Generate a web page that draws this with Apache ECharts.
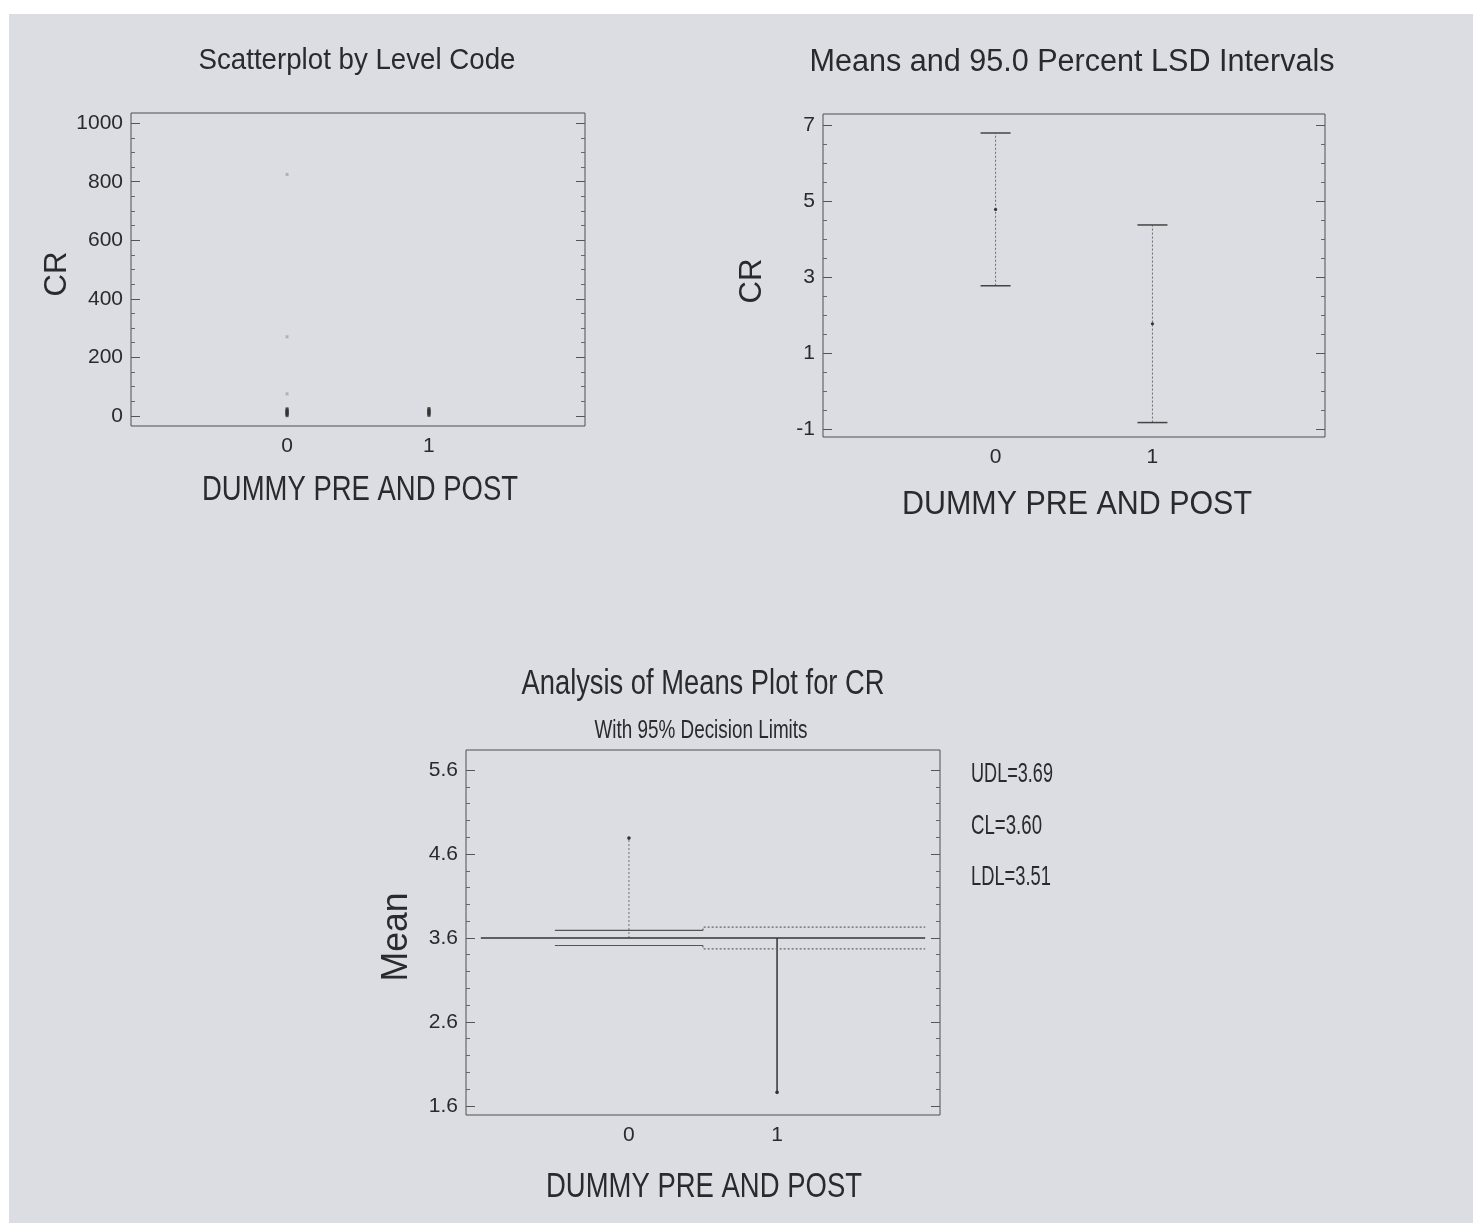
<!DOCTYPE html>
<html><head><meta charset="utf-8">
<script src="https://cdn.jsdelivr.net/npm/echarts@6/dist/echarts.min.js"></script>
<style>
html,body{margin:0;padding:0;background:#ffffff;}
#bg{position:absolute;left:9px;top:14px;width:1464px;height:1209px;background:#dcdde2;}
#c{position:absolute;left:0;top:0;width:1473px;height:1223px;}
</style>
</head><body><div id="bg"></div><div id="c"></div>
<script>
// ---------- data ----------
const levelCodes = [0, 1];
const xTickLabels = [0, 1];
const xAxisName = 'DUMMY PRE AND POST';

// Scatterplot by Level Code (CR values per level)
const scatterLevel0Dense = [2, 6, 10, 14, 18, 22];
const scatterLevel0Sparse = [75, 270, 825];
const scatterLevel1Dense = [3, 7, 11, 15, 19, 23];
const scatterTicks = [0, 200, 400, 600, 800, 1000];

// Means and 95.0 Percent LSD Intervals
const lsdMeans = [4.78, 1.77];
const lsdLower = [2.77, -0.83];
const lsdUpper = [6.79, 4.37];
const lsdTicks = [-1, 1, 3, 5, 7];

// Analysis of Means
const anomMeans = [4.79, 1.76];
const anomCL = 3.60;
const anomUDL = [3.69, 3.73];
const anomLDL = [3.51, 3.47];
const anomTicks = [1.6, 2.6, 3.6, 4.6, 5.6];
const anomLabels = ['UDL=3.69', 'CL=3.60', 'LDL=3.51'];

// ---------- helpers ----------
const FONT = "'Liberation Sans', Arial, sans-serif";
const TXT = '#2a2a2e';
function minors(majors, step) {
  const out = [];
  for (let i = 0; i < majors.length - 1; i++) {
    for (let v = majors[i] + step; v < majors[i + 1] - step / 2; v += step) out.push(Math.round(v * 1000) / 1000);
  }
  return out;
}
const grids = [
  {left: 131, top: 113, width: 454, height: 313},
  {left: 823, top: 114, width: 502, height: 323},
  {left: 466, top: 750, width: 474, height: 365}
];
const yRanges = [[-35, 1035], [-1.21, 7.29], [1.49, 5.84]];
const yMajors = [scatterTicks, lsdTicks, anomTicks];
const yMinors = [minors(scatterTicks, 50), minors(lsdTicks, 0.5), minors(anomTicks, 0.2)];
const labelSize = 21;

const xAxes = [], yAxes = [];
for (let g = 0; g < 3; g++) {
  xAxes.push({
    type: 'value', gridIndex: g, min: -1.1, max: 2.1,
    axisLine: {show: false, onZero: false}, axisTick: {show: false}, splitLine: {show: false},
    axisLabel: {customValues: xTickLabels, color: TXT, fontSize: labelSize, fontFamily: FONT, margin: 10}
  });
  const base = {type: 'value', gridIndex: g, min: yRanges[g][0], max: yRanges[g][1],
    axisLine: {show: false, onZero: false}, splitLine: {show: false}};
  yAxes.push(Object.assign({}, base, {
    position: 'left',
    axisTick: {inside: true, length: 9, customValues: yMajors[g], lineStyle: {color: '#555'}},
    axisLabel: {customValues: yMajors[g], color: TXT, fontSize: labelSize, fontFamily: FONT, margin: 8,
      formatter: v => String(v)}
  }));
  yAxes.push(Object.assign({}, base, {
    position: 'left',
    axisTick: {inside: true, length: 4, customValues: yMinors[g], lineStyle: {color: '#666'}},
    axisLabel: {show: false}
  }));
  yAxes.push(Object.assign({}, base, {
    position: 'right',
    axisTick: {inside: true, length: 9, customValues: yMajors[g], lineStyle: {color: '#555'}},
    axisLabel: {show: false}
  }));
  yAxes.push(Object.assign({}, base, {
    position: 'right',
    axisTick: {inside: true, length: 4, customValues: yMinors[g], lineStyle: {color: '#666'}},
    axisLabel: {show: false}
  }));
}

// series data
const sDense = [];
scatterLevel0Dense.forEach(v => sDense.push([levelCodes[0], v]));
scatterLevel1Dense.forEach(v => sDense.push([levelCodes[1], v]));
const sSparse = scatterLevel0Sparse.map(v => [levelCodes[0], v]);
const lsdData = levelCodes.map((c, i) => [c, lsdLower[i], lsdUpper[i], lsdMeans[i]]);
const anomMeanData = levelCodes.map((c, i) => [c, anomCL, anomMeans[i], i]);

const series = [
  {type: 'scatter', xAxisIndex: 0, yAxisIndex: 0, data: sDense, symbol: 'rect', symbolSize: [3, 4],
    itemStyle: {color: '#333'}, silent: true},
  {type: 'scatter', xAxisIndex: 0, yAxisIndex: 0, data: sSparse, symbol: 'rect', symbolSize: [3, 3],
    itemStyle: {color: '#a5a6aa'}, silent: true},
  {type: 'custom', xAxisIndex: 1, yAxisIndex: 4, data: lsdData, silent: true,
    renderItem: function (params, api) {
      const x = api.value(0);
      const lo = api.coord([x, api.value(1)]);
      const hi = api.coord([x, api.value(2)]);
      const m = api.coord([x, api.value(3)]);
      const hw = 15;
      return {type: 'group', children: [
        {type: 'line', shape: {x1: lo[0], y1: lo[1], x2: hi[0], y2: hi[1]},
          style: {stroke: '#6a6a6e', lineWidth: 1, lineDash: [2, 2]}},
        {type: 'line', shape: {x1: hi[0] - hw, y1: hi[1], x2: hi[0] + hw, y2: hi[1]},
          style: {stroke: '#444', lineWidth: 1.5}},
        {type: 'line', shape: {x1: lo[0] - hw, y1: lo[1], x2: lo[0] + hw, y2: lo[1]},
          style: {stroke: '#444', lineWidth: 1.5}},
        {type: 'circle', shape: {cx: m[0], cy: m[1], r: 1.6}, style: {fill: '#333'}}
      ]};
    }},
  {type: 'line', xAxisIndex: 2, yAxisIndex: 8, data: [[-1, anomCL], [2, anomCL]], symbol: 'none',
    lineStyle: {color: '#333', width: 1.6}, silent: true},
  {type: 'line', xAxisIndex: 2, yAxisIndex: 8, data: [[-0.5, anomUDL[0]], [0.5, anomUDL[0]]], symbol: 'none',
    lineStyle: {color: '#555', width: 1.2}, silent: true},
  {type: 'line', xAxisIndex: 2, yAxisIndex: 8, data: [[-0.5, anomLDL[0]], [0.5, anomLDL[0]]], symbol: 'none',
    lineStyle: {color: '#555', width: 1.2}, silent: true},
  {type: 'line', xAxisIndex: 2, yAxisIndex: 8, data: [[0.5, anomUDL[0]], [0.5, anomUDL[1]], [2, anomUDL[1]]], symbol: 'none',
    lineStyle: {color: '#666', width: 1.2, type: [2, 2]}, silent: true},
  {type: 'line', xAxisIndex: 2, yAxisIndex: 8, data: [[0.5, anomLDL[0]], [0.5, anomLDL[1]], [2, anomLDL[1]]], symbol: 'none',
    lineStyle: {color: '#666', width: 1.2, type: [2, 2]}, silent: true},
  {type: 'custom', xAxisIndex: 2, yAxisIndex: 8, data: anomMeanData, silent: true,
    renderItem: function (params, api) {
      const x = api.value(0);
      const a = api.coord([x, api.value(1)]);
      const b = api.coord([x, api.value(2)]);
      const solid = api.value(3) === 1;
      return {type: 'group', children: [
        {type: 'line', shape: {x1: a[0], y1: a[1], x2: b[0], y2: b[1]},
          style: solid ? {stroke: '#333', lineWidth: 1.5} : {stroke: '#707074', lineWidth: 1, lineDash: [2, 2]}},
        {type: 'circle', shape: {cx: b[0], cy: b[1], r: 1.8}, style: {fill: '#333'}}
      ]};
    }}
];

// text fitted to the narrow (condensed) look of the original
const mctx = document.createElement('canvas').getContext('2d');
function fitText(str, x, y, cap, width, opts) {
  opts = opts || {};
  const size = cap / 0.716;
  const font = size.toFixed(1) + 'px ' + FONT;
  mctx.font = font;
  const w = mctx.measureText(str).width;
  const align = opts.align || 'center';
  return {
    type: 'text', x: x, y: y, rotation: opts.rot || 0, scaleX: width / w, silent: true,
    style: {text: str, font: font, fill: TXT, align: align, textAlign: align,
      verticalAlign: 'middle', textVerticalAlign: 'middle'}
  };
}

const graphics = [
  fitText('Scatterplot by Level Code', 357, 61, 21.7, 317),
  fitText('Means and 95.0 Percent LSD Intervals', 1072, 62, 23, 525),
  fitText('Analysis of Means Plot for CR', 703, 684, 25, 363),
  fitText('With 95% Decision Limits', 701, 731, 19, 213),
  fitText(xAxisName, 360, 490, 25, 316),
  fitText(xAxisName, 1077, 505, 24, 350),
  fitText(xAxisName, 704, 1187, 25, 316),
  fitText('CR', 57, 274, 23, 45, {rot: Math.PI / 2}),
  fitText('CR', 752, 281, 23, 45, {rot: Math.PI / 2}),
  fitText('Mean', 397, 937, 27, 89, {rot: Math.PI / 2}),
  fitText(anomLabels[0], 971, 774, 20, 82, {align: 'left'}),
  fitText(anomLabels[1], 971, 826, 20, 71, {align: 'left'}),
  fitText(anomLabels[2], 971, 877, 20, 80, {align: 'left'})
];

const chart = echarts.init(document.getElementById('c'), null, {renderer: 'canvas'});
chart.setOption({
  backgroundColor: 'transparent',
  animation: false,
  grid: grids.map(g => Object.assign({show: true, borderColor: '#4f4f52', borderWidth: 1, backgroundColor: 'transparent'}, g)),
  xAxis: xAxes,
  yAxis: yAxes,
  series: series,
  graphic: graphics
});
</script>
</body></html>
